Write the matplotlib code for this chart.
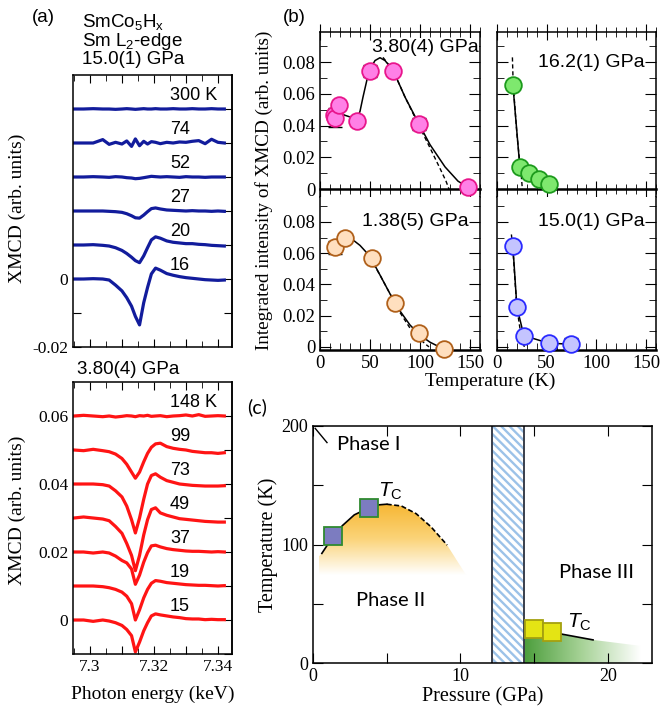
import numpy as np
import matplotlib.pyplot as plt
from matplotlib.patches import Polygon
from matplotlib.colors import LinearSegmentedColormap
from matplotlib.ticker import MultipleLocator, FixedLocator

plt.rcParams['font.family'] = 'Liberation Serif'
plt.rcParams['mathtext.fontset'] = 'custom'
plt.rcParams['mathtext.rm'] = 'Liberation Sans'
plt.rcParams['mathtext.it'] = 'Liberation Sans:italic'
plt.rcParams['hatch.linewidth'] = 1.7
plt.rcParams['xtick.direction'] = 'in'
plt.rcParams['ytick.direction'] = 'in'
plt.rcParams['axes.linewidth'] = 1.1

SANS = 'Liberation Sans'
SERIF = 'Liberation Serif'
CAL = 'Lato'

# ---------------- (a) XMCD spectra (values in 1e-3, before stacking offset)
energy = [7.2950, 7.2980, 7.3010, 7.3040, 7.3060, 7.3080, 7.3100, 7.3115, 7.3130,
          7.3142, 7.3155, 7.3168, 7.3180, 7.3192, 7.3205, 7.3220, 7.3240, 7.3260,
          7.3280, 7.3300, 7.3320, 7.3340, 7.3360, 7.3380, 7.3400, 7.3420]

# 15.0(1) GPa
b300 = [0, 0, 0.1, 0, 0, -0.1, 0, 0.1, 0, -0.1, 0, 0.1, 0, 0, 0.1, 0, 0, 0.1, 0, 0, 0.1, 0, 0, 0.1, 0, 0]
b74 = [0, 0, 0, 1.0, -0.4, 0.2, -0.3, 0.6, -1.0, 1.2, -0.8, 0.5, -0.3, 0.4, 0.2, -0.2,
       0.2, 0.0, 0.3, 0.2, 0.5, 0.7, -0.2, 1.1, 0.2, 0.0]
b52 = [0, 0, 0.1, 0, -0.1, 0.1, 0, -0.2, -0.3, -0.5, -0.4, -0.2, 0, 0.2, 0.1, 0, 0.1,
       0, -0.1, 0.1, 0, 0, -0.1, 0, 0, 0]
b27 = [0, 0, 0, 0, -0.1, -0.2, -0.4, -0.8, -1.4, -2.0, -2.1, -1.2, -0.2, 0.7, 0.9, 0.6,
       0.3, 0.2, 0.1, 0, 0.1, 0, 0, -0.1, 0, -0.1]
b20 = [0, 0, 0.1, -0.1, -0.3, -0.8, -1.6, -2.5, -3.6, -4.6, -5.2, -3.2, -0.8, 1.5, 2.4,
       2.0, 1.2, 0.8, 0.6, 0.4, 0.4, 0.2, 0.1, -0.1, -0.2, -0.3]
b16 = [0, 0, 0.1, 0, -0.3, -1.8, -3.5, -5.5, -8.0, -11.0, -13.5, -7.0, -2.5, 1.5, 3.2,
       2.6, 1.6, 1.1, 0.7, 0.4, 0.2, 0, -0.2, -0.3, -0.4, -0.3]
blue_labels = ['300 K', '74', '52', '27', '20', '16']
blue_offsets = [0.05, 0.04, 0.03, 0.02, 0.01, 0.0]

# 3.80(4) GPa
r148 = [0, 0.2, 0, -0.2, 0, -0.3, -0.1, 0.1, 0, -0.2, 0.1, 0, 0.2, -0.1, 0, 0.1, -0.2,
        0, 0.1, 0.3, 0, 0.4, -0.1, 0, 0.1, 0]
r99 = [0, -0.2, 0.2, -0.2, -0.5, -1.2, -2.5, -4.2, -6.5, -8.3, -6.5, -3.5, -1.0, 0.8,
       1.8, 2.0, 1.0, 0.5, 0.2, 0, -0.4, -0.6, -0.8, -0.8, -1.0, -0.8]
r73 = [0, 0, 0, -0.2, -0.6, -2.0, -3.8, -6.5, -10.5, -14.4, -10.0, -4.5, 0.0, 2.5, 3.0,
       2.0, 1.0, 0.5, 0.0, -0.2, -0.4, -0.5, -0.6, -0.6, -0.6, -0.5]
r49 = [0, 0.3, 0, -0.3, -0.8, -2.5, -4.5, -7.5, -11.0, -15.5, -11.0, -5.0, -0.5, 2.5,
       3.0, 1.5, 0.8, 0.3, -0.2, -0.4, -0.6, -0.8, -1.0, -1.1, -1.2, -1.2]
r37 = [0, 0, -0.3, 0, -0.3, -1.2, -2.5, -3.2, -5.0, -9.5, -6.8, -3.0, -0.2, 1.8, 2.0,
       1.5, 1.0, 0.7, 0.5, 0.3, 0.2, 0.2, 0.1, 0.0, 0.1, 0.0]
r19 = [0, 0, 0, -0.2, -0.5, -1.0, -1.8, -3.0, -5.2, -10.0, -7.0, -3.5, -1.0, 0.8, 1.6,
       1.4, 1.0, 0.8, 0.6, 0.4, 0.3, 0.2, 0.2, 0.1, 0.0, 0.1]
r15 = [0, 0, -0.4, 0, -0.3, -0.8, -1.6, -2.8, -4.6, -9.4, -6.5, -3.2, -0.8, 1.2, 1.8,
       1.5, 1.2, 0.9, 0.7, 0.4, 0.3, 0.3, 0.1, 0.2, 0.1, 0.1]
red_labels = ['148 K', '99', '73', '49', '37', '19', '15']
red_offsets = [0.06, 0.05, 0.04, 0.03, 0.02, 0.01, 0.0]

# ---------------- (b) integrated XMCD intensity vs temperature
T_380 = [14, 15, 19, 37, 50, 73, 99, 148]
I_380 = [0.047, 0.045, 0.053, 0.043, 0.0745, 0.0744, 0.041, 0.001]
E_380 = [0.003, 0.006, 0.003, 0.003, 0.004, 0.002, 0.004, 0.001]
fitT_380 = [15, 25, 37, 40, 43, 47, 50, 55, 60, 65, 73, 85, 99, 110, 125, 138, 148]
fitI_380 = [0.049, 0.0465, 0.044, 0.049, 0.058, 0.069, 0.0755, 0.081, 0.0828, 0.081,
            0.075, 0.058, 0.041, 0.028, 0.014, 0.005, 0.001]
dashT_380 = [63, 73, 85, 99, 110, 120, 126, 129]
dashI_380 = [0.083, 0.075, 0.058, 0.040, 0.026, 0.013, 0.005, 0.0]

T_162 = [16, 23, 32, 42, 52]
I_162 = [0.0655, 0.014, 0.0103, 0.0061, 0.0031]
E_162 = [0.001, 0.002, 0.002, 0.001, 0.001]
dashT_162 = [15.5, 16.3, 20, 23, 24.5, 25.5]
dashI_162 = [0.083, 0.066, 0.035, 0.016, 0.008, 0.0]

T_138 = [15, 25, 52, 75, 99, 124]
I_138 = [0.0637, 0.0695, 0.0567, 0.0283, 0.0087, -0.0015]
E_138 = [0.004, 0.003, 0.002, 0.003, 0.003, 0.001]
fitT_138 = [15, 25, 32, 40, 50, 60, 70, 80, 90, 100, 110, 124]
fitI_138 = [0.0637, 0.0705, 0.069, 0.065, 0.058, 0.046, 0.034, 0.023, 0.014, 0.0075,
            0.003, -0.0015]
dashT_138 = [50, 60, 70, 80, 90, 100, 105, 109]
dashI_138 = [0.057, 0.046, 0.034, 0.022, 0.012, 0.005, 0.002, 0.0]

T_150 = [16, 20, 27, 52, 74]
I_150 = [0.0645, 0.0257, 0.0072, 0.0024, 0.0017]
E_150 = [0.001, 0.001, 0.001, 0.001, 0.004]
dashT_150 = [14.5, 16, 20, 24, 27.5]
dashI_150 = [0.072, 0.062, 0.025, 0.008, 0.0]

# ---------------- (c) phase diagram
P_sq = [1.38, 3.80]
Tc_sq = [107, 131]
P_sq3 = [15.0, 16.2]
Tc_sq3 = [28.5, 26.5]
tc_P = [0.6, 1.0, 1.38, 2.0, 2.8, 3.8, 4.5, 5.0]
tc_T = [92.5, 100, 107, 116, 125, 131, 133.5, 134]
tcd_P = [5.0, 6.0, 7.0, 8.0, 9.1]
tcd_T = [134, 132.5, 126, 115, 99.5]
tc3_P = [16.6, 19.0]
tc3_T = [25, 19.5]
ph1_P = [0.15, 0.95]
ph1_T = [198, 186]
orange_P = [0.4, 0.4, 0.6, 1.0, 1.38, 2.0, 2.8, 3.8, 4.5, 5.0, 6.0, 7.0, 8.0, 9.1, 10.4]
orange_T = [74, 90, 92.5, 100, 107, 116, 125, 131, 133.5, 134, 132.5, 126, 115, 99.5, 74]
green_P = [14.3, 14.3, 16.6, 19.0, 22.2, 22.2]
green_T = [0, 24.5, 24.5, 19.5, 14.5, 0]
band = [12.15, 14.3]

W, H = 663, 715
fig = plt.figure(figsize=(W / 100, H / 100), dpi=100)


def box(x0, y0, x1, y1):
    return fig.add_axes([x0 / W, 1 - y1 / H, (x1 - x0) / W, (y1 - y0) / H])


def spectra(ax, curves, labels, offsets, color, ylim, left_ticks, left_labels):
    for vals, lab, off in zip(curves, labels, offsets):
        ax.plot(energy, np.array(vals) * 1e-3 + off, color=color, lw=2.3,
                solid_joinstyle='round')
        ax.text(7.325, off + 0.004, lab, family=SANS, fontsize=13, va='center', ha='left')
    ax.set_xlim(7.2947, 7.3444)
    ax.set_ylim(*ylim)
    ax.xaxis.set_major_locator(FixedLocator([7.30, 7.31, 7.32, 7.33, 7.34]))
    ax.xaxis.set_minor_locator(MultipleLocator(0.005))
    ax.set_xticklabels(['7.3', '', '7.32', '', '7.34'])
    ax.tick_params(axis='x', which='both', top=True, bottom=True, labelsize=12.5,
                   labelfontfamily=SERIF)
    ax.tick_params(axis='x', which='major', length=6)
    ax.tick_params(axis='x', which='minor', length=4)
    ax.set_yticks(left_ticks)
    ax.set_yticklabels(left_labels)
    ax.tick_params(axis='y', length=6, labelsize=12.5, labelfontfamily=SERIF)
    sec = ax.secondary_yaxis('right')
    sec.set_yticks(offsets + [min(offsets) - 0.01])
    sec.tick_params(labelright=False, direction='in', length=6)


ax_at = box(73, 75, 232, 347)
spectra(ax_at, [b300, b74, b52, b27, b20, b16], blue_labels, blue_offsets, '#121c9c',
        (-0.02, 0.06), [-0.02, -0.01, 0], ['-0.02', '', '0'])
ax_at.tick_params(axis='x', labelbottom=False)

ax_ab = box(73, 382, 232, 654)
spectra(ax_ab, [r148, r99, r73, r49, r37, r19, r15], red_labels, red_offsets, '#ff1414',
        (-0.01, 0.07), [0, 0.02, 0.04, 0.06], ['0', '0.02', '0.04', '0.06'])
ax_ab.set_xlabel('Photon energy (keV)', fontsize=14, labelpad=8)

fig.text(43 / W, 1 - 17 / H, '(a)', family=SANS, fontsize=13.5, ha='center', va='center')
for txt, yy in [('SmCo$_5$H$_\\mathrm{x}$', 22), ('Sm L$_2$-edge', 41), ('15.0(1) GPa', 60)]:
    fig.text(82 / W, 1 - yy / H, txt, family=SANS, fontsize=13.5, ha='left', va='center')
fig.text(77 / W, 1 - 369 / H, '3.80(4) GPa', family=SANS, fontsize=13.5, ha='left', va='center')
fig.text(17 / W, 1 - 208 / H, 'XMCD (arb. units)', fontsize=14, rotation=90, ha='center', va='center')
fig.text(17 / W, 1 - 510 / H, 'XMCD (arb. units)', fontsize=14, rotation=90, ha='center', va='center')


# ---------------- (b)
def panel_b(ax, T, I, err, face, edge, top_row, ylabels, label, label_y, label_x,
            fitT=None, fitI=None, dashT=None, dashI=None):
    if fitT is None:
        fitT, fitI = T, I
    ax.plot(fitT, fitI, color='black', lw=1.1, zorder=2)
    ax.plot(dashT, dashI, color='black', lw=1.0, ls=(0, (3, 2)), zorder=2)
    ax.errorbar(T, I, yerr=err, fmt='none', ecolor='black', elinewidth=1.0, capsize=5,
                capthick=1.0, zorder=3)
    ax.plot(T, I, 'o', ms=12, mfc=face, mec=edge, mew=1.3, zorder=4, clip_on=False)
    ax.set_xlim(0, 160)
    ax.xaxis.set_major_locator(MultipleLocator(50))
    ax.xaxis.set_minor_locator(MultipleLocator(10))
    ax.yaxis.set_major_locator(MultipleLocator(0.02))
    ax.yaxis.set_minor_locator(MultipleLocator(0.01))
    ax.tick_params(which='both', left=True, right=True, labelsize=13.5,
                   labelfontfamily=SERIF)
    ax.tick_params(which='major', length=8)
    ax.tick_params(which='minor', length=5)
    ax.yaxis.set_major_formatter(plt.FuncFormatter(lambda v, p: '0' if abs(v) < 1e-9 else f'{v:.2f}'))
    if not ylabels:
        ax.tick_params(axis='y', labelleft=False)
    if top_row:
        ax.set_ylim(-0.005, 0.099)
        ax.spines['bottom'].set_position(('data', 0))
        ax.spines['bottom'].set_linewidth(1.8)
        ax.tick_params(axis='x', which='both', top=True, direction='inout', labelbottom=False)
        ax.tick_params(axis='x', which='major', length=11)
        ax.tick_params(axis='x', which='minor', length=7)
    else:
        ax.set_ylim(-0.002, 0.096)
        ax.spines['top'].set_visible(False)
        ax.spines['bottom'].set_linewidth(1.8)
        ax.tick_params(axis='x', which='both', top=False)
    ax.text(label_x, label_y, label, family=SANS, fontsize=14, ha='right', va='center',
            zorder=5, bbox=dict(facecolor='white', edgecolor='none', pad=0.3))


ax_tl = box(320, 32, 480, 197)
panel_b(ax_tl, T_380, I_380, E_380, '#ff80e6', '#e8168c', True, True, '3.80(4) GPa',
        0.0895, 159, fitT_380, fitI_380, dashT_380, dashI_380)
ax_tr = box(497, 32, 656, 197)
panel_b(ax_tr, T_162, I_162, E_162, '#7ee86e', '#1c9a1c', True, False, '16.2(1) GPa',
        0.08, 149, None, None, dashT_162, dashI_162)
ax_bl = box(320, 197, 480, 350)
panel_b(ax_bl, T_138, I_138, E_138, '#ffdfbf', '#b0601a', False, True, '1.38(5) GPa',
        0.08, 149, fitT_138, fitI_138, dashT_138, dashI_138)
ax_br = box(497, 197, 656, 350)
panel_b(ax_br, T_150, I_150, E_150, '#c4c4ff', '#2a2aff', False, False, '15.0(1) GPa',
        0.08, 149, None, None, dashT_150, dashI_150)

fig.text(294 / W, 1 - 17 / H, '(b)', family=SANS, fontsize=13.5, ha='center', va='center')
fig.text(264 / W, 1 - 190 / H, 'Integrated intensity of XMCD (arb. units)', fontsize=13.8,
         rotation=90, ha='center', va='center')
fig.text(490 / W, 1 - 381 / H, 'Temperature (K)', fontsize=14, ha='center', va='center')

# ---------------- (c)
ax_c = box(313, 426, 652, 663)
grad_v = np.linspace(0, 1, 256).reshape(-1, 1)
cm_or = LinearSegmentedColormap.from_list('or', ['#ffffff', '#fbd47a', '#f6b632'])
im = ax_c.imshow(grad_v, extent=[0.4, 10.4, 74, 134], origin='lower', cmap=cm_or,
                 aspect='auto', zorder=1)
im.set_clip_path(Polygon(list(zip(orange_P, orange_T)), closed=True, transform=ax_c.transData))

grad_h = np.linspace(0, 1, 256).reshape(1, -1)
cm_gr = LinearSegmentedColormap.from_list('gr', ['#4c9e3c', '#a8d398', '#ffffff'])
im2 = ax_c.imshow(grad_h, extent=[14.3, 22.2, 0, 24.5], origin='lower', cmap=cm_gr,
                  aspect='auto', zorder=1)
im2.set_clip_path(Polygon(list(zip(green_P, green_T)), closed=True, transform=ax_c.transData))

ax_c.axvspan(band[0], band[1], facecolor='white', edgecolor='#9cc2e8', hatch='\\\\\\\\',
             lw=0, zorder=1.5)
for xb in band:
    ax_c.axvline(xb, color='#3a3f4c', lw=1.4, zorder=2)

ax_c.plot(tc_P, tc_T, color='black', lw=1.2, zorder=3)
ax_c.plot(tcd_P, tcd_T, color='black', lw=1.2, ls=(0, (3, 1.5)), zorder=3)
ax_c.plot(tc3_P, tc3_T, color='black', lw=1.2, zorder=3)
ax_c.plot(ph1_P, ph1_T, color='black', lw=1.0, zorder=3)
ax_c.plot(P_sq, Tc_sq, 's', ms=12.5, mfc='#7c7cc0', mec='#2f8a2f', mew=1.3, zorder=4)
ax_c.plot(P_sq3, Tc_sq3, 's', ms=12.5, mfc='#e4e414', mec='#a4a010', mew=1.3, zorder=4)

ax_c.set_xlim(0, 23)
ax_c.set_ylim(0, 200)
ax_c.xaxis.set_major_locator(FixedLocator([0, 5, 10, 15, 20]))
ax_c.set_xticklabels(['0', '', '10', '', '20'])
ax_c.yaxis.set_major_locator(FixedLocator([0, 50, 100, 150, 200]))
ax_c.set_yticklabels(['0', '', '100', '', '200'])
ax_c.tick_params(which='both', top=True, right=True, length=7, labelsize=13,
                 labelfontfamily=SERIF)
ax_c.set_xlabel('Pressure (GPa)', fontsize=14.5, labelpad=2)
ax_c.set_ylabel('Temperature (K)', fontsize=14.5, labelpad=2)

ax_c.text(1.6, 184, 'Phase I', family=CAL, fontsize=14.5, ha='left', va='center')
ax_c.text(5.3, 53, 'Phase II', family=CAL, fontsize=14.5, ha='center', va='center')
ax_c.text(16.7, 76, 'Phase III', family=CAL, fontsize=14.5, ha='left', va='center')
ax_c.text(4.4, 145, '$T_\\mathrm{C}$', fontsize=15, ha='left', va='center')
ax_c.text(17.2, 34, '$T_\\mathrm{C}$', fontsize=15, ha='left', va='center')
fig.text(257 / W, 1 - 407 / H, '(c)', family=CAL, fontsize=14, ha='center', va='center')

fig.savefig('out.png', dpi=100)
